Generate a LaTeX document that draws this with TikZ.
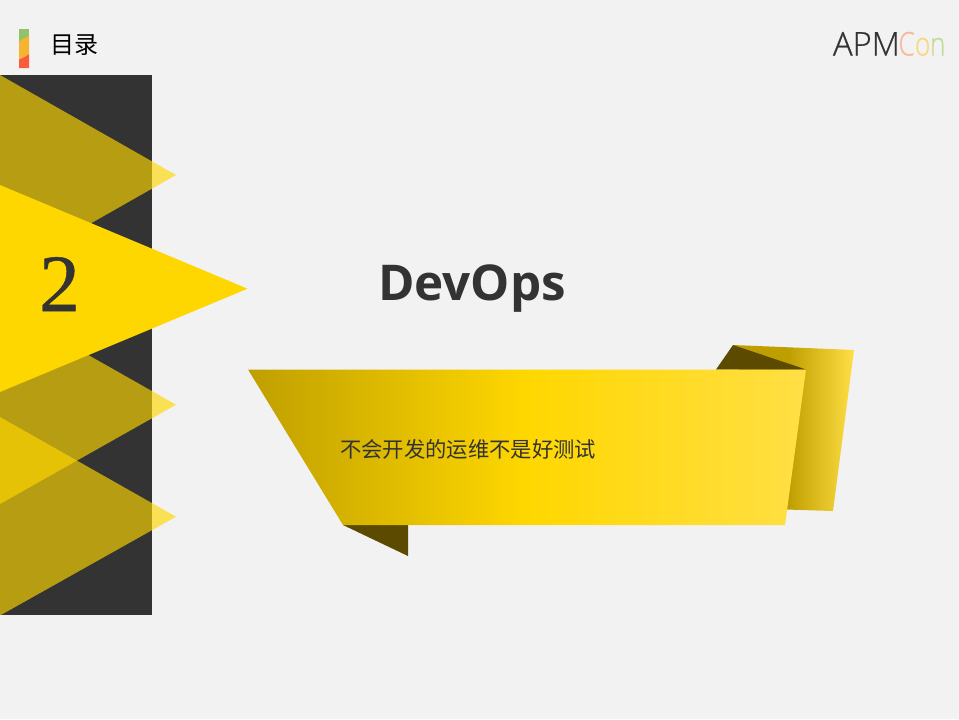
\documentclass[tikz,border=0pt]{standalone}
\usepackage{fontspec}
\setmainfont{Open Sans}
\newfontfamily\cjkfont{Noto Sans CJK SC}
\newfontfamily\numfont[FakeBold=0.6]{Liberation Serif}
\newfontfamily\headfont{Open Sans}
\newfontfamily\logofont[FakeBold=0.7]{Open Sans Light}
\definecolor{pagebg}{HTML}{F2F2F2}
\definecolor{inkdark}{HTML}{333333}
\definecolor{gold}{HTML}{FFD700}
\definecolor{golddark}{HTML}{BF9F00}
\definecolor{goldlight}{HTML}{FFDF45}
\definecolor{foldbrown}{HTML}{5C4A00}
\definecolor{barGreen}{RGB}{146,195,106}
\definecolor{barOrange}{RGB}{245,181,48}
\definecolor{barRed}{RGB}{249,91,60}
\definecolor{logoC}{RGB}{250,185,155}
\definecolor{logoO}{RGB}{250,215,120}
\definecolor{logoN}{RGB}{195,220,150}
\pgfdeclarehorizontalshading{backfold}{100bp}{color(0bp)=(golddark); color(48bp)=(golddark); color(75bp)=(goldlight); color(100bp)=(goldlight)}
\tikzset{
  x=0.75pt,y=-0.75pt,
  ghost/.style={fill=gold,fill opacity=0.65,draw=none},
  txt/.style={inner sep=0pt,outer sep=0pt,text=inkdark},
  logotxt/.style={txt,anchor=base west,font=\logofont\fontsize{24.5}{24}\selectfont},
}
\begin{document}
\begin{tikzpicture}
\useasboundingbox (0,0) rectangle (959,719);
\fill[pagebg] (0,0) rectangle (959,719);
% title marker
\fill[barGreen] (19,29) rectangle (29,42);
\fill[barOrange] (19,41.5) .. controls (22,39.5) and (26,37.5) .. (29,35.7) -- (29,55) -- (19,60) -- cycle;
\fill[barRed] (19,59.5) .. controls (22,58.5) and (26,56.5) .. (29,54.3) -- (29,68) -- (19,68) -- cycle;
\node[txt,anchor=west,text=black,font=\cjkfont\fontsize{18}{18}\selectfont] (title) at (50,45) {目录};
% logo
\node[logotxt] (apm) at (833,55.5) {APM};
\node[logotxt,text=logoC,xscale=0.8] (logoc) at (898.5,55.5) {C};
\node[logotxt,text=logoO,xscale=0.8] (logoo) at (915,55.5) {o};
\node[logotxt,text=logoN,xscale=0.8] (logon) at (930,55.5) {n};
% left band and triangles
\fill[inkdark] (0,75) rectangle (152,615);
\fill[ghost] (0,75) -- (176,175) -- (0,275) -- cycle;
\fill[ghost] (0,305) -- (176,404.7) -- (0,504) -- cycle;
\fill[ghost] (0,417) -- (176,516.7) -- (0,615.5) -- cycle;
\fill[gold] (0,185) -- (247.5,288.7) -- (0,392) -- cycle;
\node[txt,anchor=base,font=\numfont\fontsize{61}{61}\selectfont] (num) at (59.5,311) {2};
% heading
\node[txt,anchor=base west,font=\headfont\bfseries\fontsize{37}{37}\selectfont] (head) at (378,300) {DevOps};
% ribbon
\path[shade,shading=backfold] (733,345) -- (854,350) -- (833,511) -- (770,509) -- cycle;
\fill[foldbrown] (733,345) -- (806,369.5) -- (716,369.5) -- cycle;
\fill[foldbrown] (343,525) -- (408,525) -- (408,556) -- cycle;
\shade[left color=golddark,right color=goldlight,middle color=gold] (248,369.5) -- (806,369.5) -- (785,525) -- (343,525) -- cycle;
\node[txt,anchor=west,font=\cjkfont\fontsize{16}{16}\selectfont] (sub) at (340,449.5) {不会开发的运维不是好测试};
\end{tikzpicture}
\end{document}
